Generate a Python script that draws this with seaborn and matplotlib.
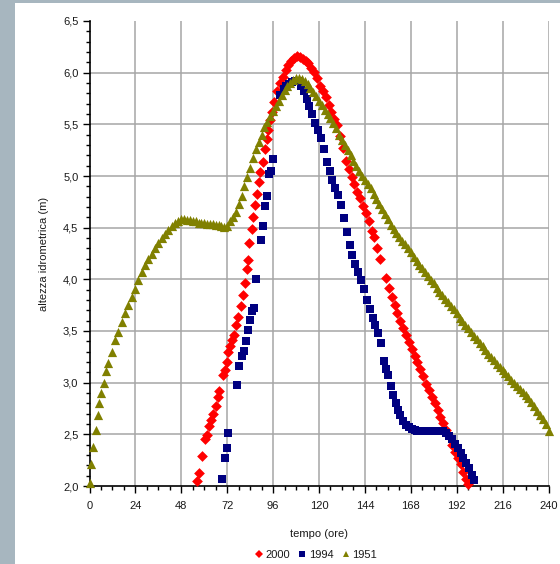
import numpy as np
import pandas as pd
import matplotlib
matplotlib.use("Agg")
import matplotlib.pyplot as plt
import seaborn as sns
from matplotlib.patches import Rectangle
from matplotlib.lines import Line2D
from matplotlib.ticker import MultipleLocator, FuncFormatter

# ---------------- data ----------------
series_names = ["2000", "1994", "1951"]
series_colors = {"2000": "#ff0000", "1994": "#000080", "1951": "#808000"}

t_2000 = [56.1, 57.3, 58.7, 60.4, 61.6, 62.5, 63.5, 64.7, 66.0, 67.0, 67.9, 69.6, 70.8,
          71.7, 72.6, 73.5, 74.4, 75.6, 76.6, 77.8, 79.1, 80.4, 81.3, 82.2, 82.9, 83.6,
          84.8, 85.7, 86.5, 87.4, 88.5, 89.4, 90.6, 91.8, 92.8, 93.5, 94.4, 95.3, 96.6,
          97.9, 99.6, 101.3, 102.7, 104.0, 105.5, 107.0, 108.5, 110.0, 111.5, 113.0,
          114.5, 116.0, 117.5, 119.0, 120.5, 122.0, 123.5, 125.0, 126.5, 128.0, 129.5,
          131.0, 132.5, 134.0, 135.5, 137.0, 138.5, 140.0, 141.5, 143.0, 144.5, 146.0,
          147.5, 149.0, 150.5, 152.0, 155.0, 156.5, 158.0, 159.5, 161.0, 162.5, 164.0,
          165.5, 167.0, 168.5, 170.0, 171.5, 173.0, 174.5, 176.0, 177.5, 179.0, 180.5,
          182.0, 183.5, 185.0, 186.5, 188.0, 189.5, 191.0, 192.5, 194.0, 195.5, 197.0,
          197.8]
h_2000 = [2.05, 2.13, 2.29, 2.45, 2.49, 2.58, 2.64, 2.70, 2.77, 2.86, 2.92, 3.07, 3.12,
          3.20, 3.30, 3.35, 3.41, 3.46, 3.56, 3.64, 3.74, 3.85, 3.96, 4.10, 4.19, 4.35,
          4.49, 4.60, 4.72, 4.83, 4.94, 5.04, 5.14, 5.26, 5.36, 5.45, 5.54, 5.62, 5.72,
          5.82, 5.90, 5.96, 6.03, 6.07, 6.11, 6.14, 6.16, 6.15, 6.13, 6.11,
          6.09, 6.05, 6.01, 5.95, 5.87, 5.82, 5.76, 5.69, 5.62, 5.55, 5.49,
          5.39, 5.27, 5.15, 5.07, 4.99, 4.92, 4.85, 4.79, 4.71, 4.64, 4.56,
          4.47, 4.41, 4.30, 4.20, 4.01, 3.92, 3.83, 3.75, 3.67, 3.60, 3.53,
          3.46, 3.39, 3.33, 3.26, 3.20, 3.13, 3.06, 2.99, 2.93, 2.86, 2.80,
          2.74, 2.67, 2.61, 2.54, 2.48, 2.40, 2.33, 2.27, 2.21, 2.14, 2.07,
          2.02]

t_1994 = [69.1, 70.8, 72.0, 72.6, 77.0, 78.3, 79.6, 80.9, 81.8, 82.8, 83.9, 85.0, 86.2,
          87.2, 89.9, 90.8, 91.6, 92.8, 94.0, 94.7, 95.8, 99.6, 101.5, 103.0, 104.5,
          106.0, 107.5, 109.0, 110.5, 112.0, 113.5, 115.0, 116.5, 118.0, 119.5, 121.0,
          122.5, 124.0, 125.5, 127.0, 128.5, 130.0, 131.5, 133.0, 134.5, 136.0, 137.5,
          139.0, 140.5, 142.0, 143.5, 145.0, 146.5, 148.0, 149.5, 151.0, 152.5, 153.8,
          155.0, 156.3, 157.5, 158.8, 160.0, 161.3, 162.6, 164.0, 165.5, 167.0, 168.5,
          170.0, 171.5, 173.0, 174.5, 176.0, 177.5, 179.0, 180.5, 182.0, 183.5, 185.0,
          186.5, 188.0, 189.5, 191.0, 192.5, 194.0, 195.5, 197.0, 198.5, 200.0, 201.0]
h_1994 = [2.07, 2.27, 2.37, 2.51, 2.98, 3.16, 3.26, 3.31, 3.40, 3.51, 3.61, 3.69, 3.72,
          4.00, 4.38, 4.52, 4.71, 4.81, 5.02, 5.05, 5.16, 5.78, 5.84, 5.87, 5.89,
          5.91, 5.92, 5.92, 5.87, 5.82, 5.75, 5.68, 5.60, 5.51, 5.45, 5.37,
          5.26, 5.14, 5.05, 4.96, 4.88, 4.82, 4.72, 4.59, 4.46, 4.33, 4.24,
          4.15, 4.07, 3.99, 3.91, 3.80, 3.71, 3.63, 3.56, 3.48, 3.38, 3.21,
          3.13, 3.07, 2.97, 2.88, 2.80, 2.74, 2.69, 2.63, 2.59, 2.57, 2.55,
          2.54, 2.53, 2.53, 2.53, 2.53, 2.53, 2.53, 2.53, 2.53, 2.53, 2.53,
          2.51, 2.48, 2.45, 2.41, 2.37, 2.32, 2.27, 2.22, 2.17, 2.11, 2.06]

t_1951 = [0.0, 0.8, 1.7, 3.2, 4.4, 5.0, 6.0, 7.4, 8.6, 9.8, 11.6, 13.3, 15.1, 16.8, 18.6,
          20.3, 22.1, 23.8, 25.5, 27.3, 29.0, 30.8, 32.5, 34.2, 36.0, 37.8, 39.5, 41.2,
          43.0, 44.7, 46.4, 48.0, 49.5, 51.0, 52.5, 54.0, 55.5, 57.0, 58.5, 60.0, 61.5,
          63.0, 64.5, 66.0, 67.5, 69.0, 70.5, 72.0, 73.5, 75.0, 76.5, 78.0, 79.5, 81.0,
          82.5, 84.0, 85.5, 87.0, 88.5, 90.0, 91.5, 93.0, 94.5, 96.0, 97.5, 99.0, 100.5,
          102.0, 103.5, 105.0, 106.5, 108.0, 109.5, 111.0, 112.5, 114.0, 115.5, 117.0,
          118.5, 120.0, 121.5, 123.0, 124.5, 126.0, 127.5, 129.0, 130.5, 132.0, 133.5,
          135.0, 136.5, 138.0, 139.5, 141.0, 142.5, 144.0, 145.5, 147.0, 148.5, 150.0,
          151.5, 153.0, 154.5, 156.0, 157.5, 159.0, 160.5, 162.0, 163.5, 165.0, 166.5,
          168.0, 169.5, 171.0, 172.5, 174.0, 175.5, 177.0, 178.5, 180.0, 181.5, 183.0,
          184.5, 186.0, 187.5, 189.0, 190.5, 192.0, 193.5, 195.0, 196.5, 198.0, 199.5,
          201.0, 202.5, 204.0, 205.5, 207.0, 208.5, 210.0, 211.5, 213.0, 214.5, 216.0,
          217.5, 219.0, 220.5, 222.0, 223.5, 225.0, 226.5, 228.0, 229.5, 231.0, 232.5,
          234.0, 235.5, 237.0, 238.5, 240.0]
h_1951 = [2.03, 2.21, 2.38, 2.54, 2.69, 2.80, 2.90, 3.00, 3.11, 3.19, 3.30, 3.41, 3.49,
          3.59, 3.67, 3.75, 3.83, 3.91, 3.99, 4.07, 4.14, 4.20, 4.25, 4.30, 4.35, 4.40,
          4.44, 4.48, 4.52, 4.55, 4.56, 4.58, 4.58, 4.57, 4.57, 4.56, 4.56, 4.55, 4.55,
          4.55, 4.54, 4.54, 4.54, 4.53, 4.53, 4.52, 4.51, 4.52, 4.56, 4.60, 4.65, 4.73,
          4.81, 4.90, 4.99, 5.08, 5.17, 5.26, 5.33, 5.40, 5.47, 5.52, 5.58, 5.63, 5.68,
          5.73, 5.78, 5.83, 5.87, 5.90, 5.93, 5.95, 5.95, 5.94, 5.92, 5.89, 5.85, 5.81,
          5.77, 5.73, 5.69, 5.64, 5.60, 5.56, 5.51, 5.46, 5.40, 5.35, 5.30, 5.25, 5.20,
          5.15, 5.10, 5.05, 5.00, 4.96, 4.92, 4.88, 4.83, 4.78, 4.73, 4.68, 4.63, 4.58,
          4.53, 4.49, 4.45, 4.41, 4.37, 4.34, 4.30, 4.26, 4.22, 4.18, 4.14, 4.11, 4.07,
          4.03, 3.99, 3.96, 3.92, 3.88, 3.85, 3.81, 3.78, 3.74, 3.71, 3.67, 3.63, 3.60,
          3.56, 3.53, 3.49, 3.45, 3.42, 3.38, 3.35, 3.32, 3.28, 3.25, 3.22, 3.18, 3.15,
          3.12, 3.09, 3.06, 3.03, 3.00, 2.97, 2.94, 2.91, 2.88, 2.85, 2.81, 2.77, 2.73,
          2.69, 2.65, 2.60, 2.53]

x_ticks = [0, 24, 48, 72, 96, 120, 144, 168, 192, 216, 240]
y_ticks = [2.0, 2.5, 3.0, 3.5, 4.0, 4.5, 5.0, 5.5, 6.0, 6.5]
x_label = "tempo (ore)"
y_label = "altezza idrometrica (m)"

# ---------------- build frame ----------------
frames = []
for name, t, h in [("2000", t_2000, h_2000), ("1994", t_1994, h_1994), ("1951", t_1951, h_1951)]:
    frames.append(pd.DataFrame({"tempo": t, "altezza": h, "anno": name}))
df = pd.concat(frames, ignore_index=True)

sns.set_theme(style="white")
plt.rcParams["font.family"] = ["Liberation Sans", "DejaVu Sans"]

fig = plt.figure(figsize=(5.60, 5.64), dpi=100)
fig.patch.set_facecolor("white")
# grey frame strips (left and top)
fig.patches.append(Rectangle((0, 0), 15 / 560, 1, transform=fig.transFigure,
                             facecolor="#a7b6bf", edgecolor="none", zorder=0))
fig.patches.append(Rectangle((0, 1 - 3 / 564), 1, 3 / 564, transform=fig.transFigure,
                             facecolor="#a7b6bf", edgecolor="none", zorder=0))

ax = fig.add_axes([89.5 / 560, 1 - 486 / 564, (548.5 - 89.5) / 560, (486 - 21) / 564])
ax.set_facecolor("white")

markers = {"2000": "D", "1994": "s", "1951": "^"}
sizes = {"2000": 30, "1994": 34, "1951": 44}
for name in series_names:
    sub = df[df["anno"] == name]
    sns.scatterplot(data=sub, x="tempo", y="altezza", ax=ax, color=series_colors[name],
                    marker=markers[name], s=sizes[name], linewidth=0, legend=False,
                    zorder=3, clip_on=False)

ax.set_xlim(0, 240)
ax.set_ylim(2.0, 6.5)
ax.set_xticks(x_ticks)
ax.set_yticks(y_ticks)
ax.xaxis.set_minor_locator(MultipleLocator(6))
ax.yaxis.set_minor_locator(MultipleLocator(0.1))
ax.yaxis.set_major_formatter(FuncFormatter(lambda v, p: f"{v:.1f}".replace(".", ",")))

ax.grid(True, which="major", color="#a6a6a6", linewidth=1.1)
ax.set_axisbelow(True)
gls = ax.yaxis.get_gridlines()
gls[-1].set_visible(False)
gls[0].set_visible(False)
ax.xaxis.get_gridlines()[0].set_visible(False)

for side in ["top", "right"]:
    ax.spines[side].set_visible(False)
for side in ["left", "bottom"]:
    ax.spines[side].set_color("black")
    ax.spines[side].set_linewidth(1.2)

ax.tick_params(axis="both", which="major", direction="out", length=5, width=1.0,
               color="black", labelsize=8, labelcolor="#1a1a1a", pad=3)
ax.tick_params(axis="both", which="minor", direction="out", length=3, width=1.0,
               color="black")
ax.tick_params(axis="x", which="both", bottom=True)
ax.tick_params(axis="y", which="both", left=True)
ax.tick_params(axis="x", which="major", pad=6)

ax.set_xlabel(x_label, fontsize=8, color="#1a1a1a", labelpad=13)
ax.set_ylabel(y_label, fontsize=8, color="#1a1a1a", labelpad=10)

handles = [Line2D([], [], linestyle="none", marker=markers[n], color=series_colors[n],
                  markersize=4.5 if n != "2000" else 4, markeredgewidth=0) for n in series_names]
fig.legend(handles, series_names, loc="center", bbox_to_anchor=(315 / 560, 1 - 555 / 564),
           ncol=3, frameon=False, fontsize=8, handletextpad=0.1, columnspacing=0.6,
           handlelength=1.0, borderpad=0, labelcolor="#1a1a1a")

fig.savefig("out.png", dpi=100, facecolor="white")
